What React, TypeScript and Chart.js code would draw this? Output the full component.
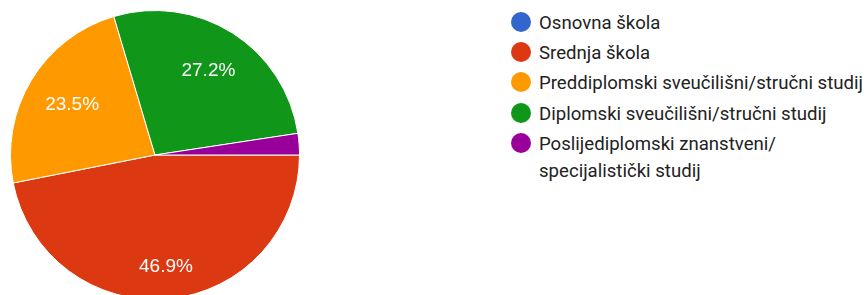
import React, { useEffect, useRef } from "react";
import { Chart, registerables } from "chart.js";

Chart.register(...registerables);

const categories = [
  "Osnovna škola",
  "Srednja škola",
  "Preddiplomski sveučilišni/stručni studij",
  "Diplomski sveučilišni/stručni studij",
  "Poslijediplomski znanstveni/\nspecijalistički studij",
];
const values = [0, 46.9, 23.5, 27.2, 2.4];
const percentLabels = ["0%", "46.9%", "23.5%", "27.2%", "2.4%"];
const colors = ["#3366cc", "#dc3912", "#ff9900", "#109618", "#990099"];
const labelRadiusFactor = [0.7, 0.78, 0.67, 0.69, 0.7];

const labelPlugin = {
  id: "sliceLabels",
  afterDatasetsDraw(chart: any) {
    const ctx = chart.ctx;
    const meta = chart.getDatasetMeta(0);
    ctx.save();
    ctx.fillStyle = "#ffffff";
    ctx.font = '19px "Liberation Sans", Arial, sans-serif';
    ctx.textAlign = "center";
    ctx.textBaseline = "middle";
    meta.data.forEach((arc: any, i: number) => {
      const v = values[i];
      if (v < 5) return;
      const p = arc.getProps(["x", "y", "startAngle", "endAngle", "outerRadius"], true);
      const mid = (p.startAngle + p.endAngle) / 2;
      const r = p.outerRadius * labelRadiusFactor[i];
      ctx.fillText(percentLabels[i], p.x + Math.cos(mid) * r, p.y + Math.sin(mid) * r);
    });
    ctx.restore();
  },
};

export default function App() {
  const ref = useRef<HTMLCanvasElement>(null);
  useEffect(() => {
    if (!ref.current) return;
    const chart = new Chart(ref.current, {
      type: "pie",
      data: {
        labels: categories,
        datasets: [
          {
            data: values,
            backgroundColor: colors,
            borderColor: "#ffffff",
            borderWidth: 1,
          },
        ],
      },
      options: {
        animation: false,
        responsive: true,
        maintainAspectRatio: false,
        rotation: 90,
        plugins: {
          legend: { display: false },
          tooltip: { enabled: false },
        },
      },
      plugins: [labelPlugin],
    });
    return () => chart.destroy();
  }, []);

  const rowTops = [22, 52, 82, 113, 143];
  return (
    <div
      style={{
        position: "fixed",
        left: 0,
        top: 0,
        width: 867,
        height: 295,
        overflow: "hidden",
        background: "#ffffff",
      }}
    >
      <div style={{ position: "absolute", left: 10, top: 10, width: 290, height: 290 }}>
        <canvas ref={ref} />
      </div>
      {categories.map((c, i) => (
        <div
          key={i}
          style={{
            position: "absolute",
            left: 511,
            top: rowTops[i] - 10,
            display: "flex",
            alignItems: "flex-start",
            fontFamily: "Roboto, sans-serif",
            fontSize: 18.6,
            color: "#222222",
            lineHeight: "27px",
          }}
        >
          <span
            style={{
              display: "inline-block",
              width: 20,
              height: 20,
              borderRadius: "50%",
              background: colors[i],
              marginTop: 0,
              marginRight: 8,
              flex: "none",
            }}
          />
          <span style={{ whiteSpace: "pre", marginTop: -2.5 }}>{c}</span>
        </div>
      ))}
    </div>
  );
}
